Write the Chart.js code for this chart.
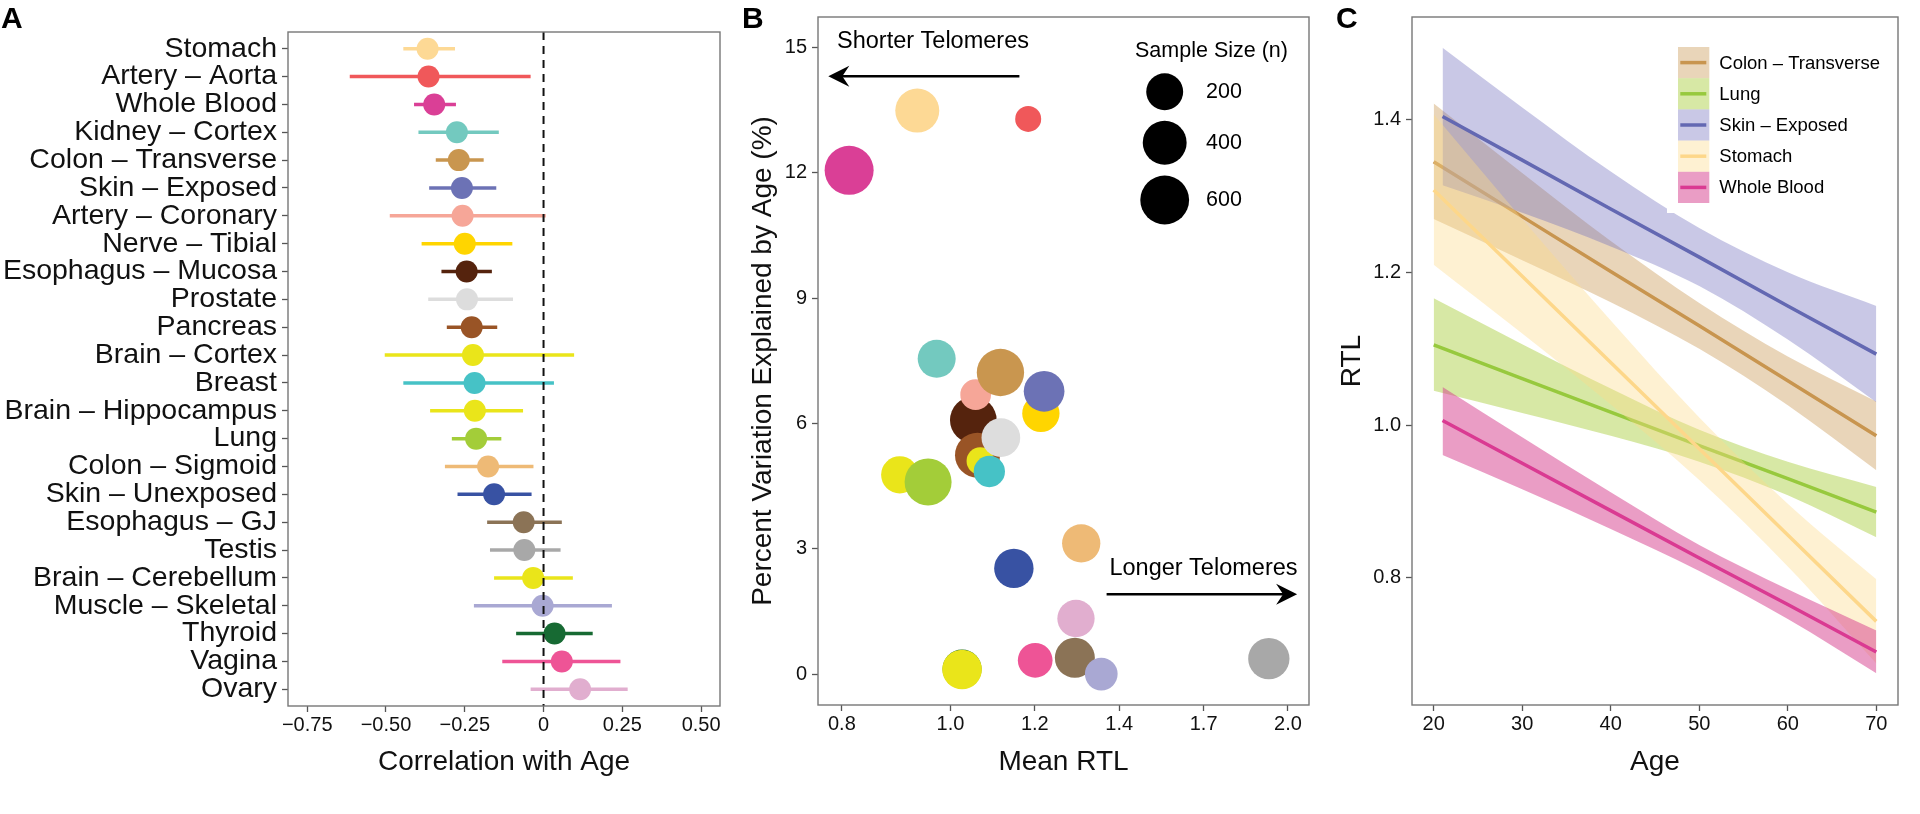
<!DOCTYPE html>
<html>
<head>
<meta charset="utf-8">
<script src="https://cdn.jsdelivr.net/npm/chart.js@4.4.1/dist/chart.umd.min.js"></script>
<style>
  html, body { margin: 0; padding: 0; background: #fff; }
  body { width: 1920px; height: 814px; position: relative; overflow: hidden; }
  .panel { position: absolute; top: 0; }
  .tag { position: absolute; top: 3px; font: bold 30px 'Liberation Sans', Arial, sans-serif; line-height: 30px; color: #000; }
</style>
</head>
<body>
<div class="panel" style="left:0px"><canvas id="chartA" width="740" height="814"></canvas></div>
<div class="panel" style="left:720px"><canvas id="chartB" width="600" height="814"></canvas></div>
<div class="panel" style="left:1320px"><canvas id="chartC" width="600" height="814"></canvas></div>
<div class="tag" style="left:1px">A</div>
<div class="tag" style="left:742px">B</div>
<div class="tag" style="left:1336px">C</div>
<script>
// ---- panel A: correlation with age ----
const tissues = ['Stomach', 'Artery – Aorta', 'Whole Blood', 'Kidney – Cortex', 'Colon – Transverse',
  'Skin – Exposed', 'Artery – Coronary', 'Nerve – Tibial', 'Esophagus – Mucosa', 'Prostate', 'Pancreas',
  'Brain – Cortex', 'Breast', 'Brain – Hippocampus', 'Lung', 'Colon – Sigmoid', 'Skin – Unexposed',
  'Esophagus – GJ', 'Testis', 'Brain – Cerebellum', 'Muscle – Skeletal', 'Thyroid', 'Vagina', 'Ovary'];
const corr = [-0.368, -0.365, -0.347, -0.275, -0.269, -0.259, -0.257, -0.250, -0.244, -0.243, -0.228,
  -0.224, -0.219, -0.218, -0.214, -0.176, -0.157, -0.063, -0.061, -0.033, -0.003, 0.035, 0.058, 0.116];
const corrLow = [-0.445, -0.615, -0.411, -0.397, -0.342, -0.363, -0.488, -0.387, -0.324, -0.366, -0.307,
  -0.504, -0.445, -0.360, -0.291, -0.313, -0.273, -0.179, -0.170, -0.157, -0.221, -0.087, -0.131, -0.041];
const corrHigh = [-0.281, -0.041, -0.278, -0.142, -0.190, -0.150, 0.007, -0.099, -0.164, -0.097, -0.147,
  0.097, 0.033, -0.065, -0.134, -0.032, -0.038, 0.058, 0.054, 0.093, 0.217, 0.156, 0.244, 0.267];
const tissueColors = ['#FDD995', '#F0585A', '#DA3F96', '#73C9BF', '#C9964F', '#6C72B5', '#F6A698',
  '#FFD500', '#55230D', '#DDDDDD', '#995426', '#EAE51A', '#46C2C6', '#EAE51A', '#A3CD39', '#EEBA76',
  '#3852A3', '#8B7356', '#A8A8A8', '#EAE51A', '#A9A8D3', '#176A33', '#EE5496', '#E1AECF'];
const corrTicks = [-0.75, -0.5, -0.25, 0, 0.25, 0.5];
const corrTickLabels = ['−0.75', '−0.50', '−0.25', '0', '0.25', '0.50'];

// ---- panel B: mean RTL vs variation explained (listed in drawing order) ----
const bTissues = ['Whole Blood', 'Stomach', 'Artery – Aorta', 'Kidney – Cortex', 'Esophagus – Mucosa',
  'Artery – Coronary', 'Colon – Transverse', 'Nerve – Tibial', 'Skin – Exposed', 'Pancreas',
  'Brain – Cortex', 'Breast', 'Prostate', 'Brain – Hippocampus', 'Lung', 'Colon – Sigmoid',
  'Skin – Unexposed', 'Ovary', 'Esophagus – GJ', 'Vagina', 'Muscle – Skeletal', 'Testis', 'Thyroid',
  'Brain – Cerebellum'];
const meanRTL = [0.812, 0.934, 1.173, 0.972, 1.048, 1.053, 1.108, 1.204, 1.212, 1.057, 1.063, 1.083,
  1.109, 0.901, 0.955, 1.308, 1.139, 1.294, 1.291, 1.190, 1.363, 1.923, 1.024, 1.024];
const pctVar = [12.06, 13.49, 13.29, 7.55, 6.08, 6.69, 7.22, 6.24, 6.77, 5.24, 5.10, 4.85, 5.66, 4.77,
  4.60, 3.13, 2.53, 1.33, 0.39, 0.33, 0.00, 0.37, 0.12, 0.11];
const sampleSize = [609, 404, 80, 224, 508, 102, 534, 208, 296, 441, 82, 108, 241, 208, 521, 231, 260,
  208, 276, 156, 125, 314, 250, 268];
const rtlTicks = [0.8, 1.0, 1.189, 1.414, 1.682, 2.0];
const rtlTickLabels = ['0.8', '1.0', '1.2', '1.4', '1.7', '2.0'];
const pctTicks = [0, 3, 6, 9, 12, 15];
const sizeKeys = [200, 400, 600];
const noteText = ['Shorter Telomeres', 'Longer Telomeres'];
const noteX = [0.792, 1.386];
const noteY = [14.99, 2.37];
const arrowFromX = [1.152, 1.378];
const arrowToX = [0.778, 2.038];
const arrowY = [14.31, 1.91];

// ---- panel C: RTL vs age fits with confidence bands ----
const ageFrom20 = [20, 30, 40, 50, 60, 70];
const ageFrom21 = [21, 30, 40, 50, 60, 70];
const colonFit = [1.345, 1.273, 1.201, 1.130, 1.058, 0.986];
const colonLow = [1.270, 1.216, 1.161, 1.100, 1.026, 0.941];
const colonHigh = [1.421, 1.330, 1.241, 1.160, 1.090, 1.031];
const lungFit = [1.105, 1.061, 1.017, 0.973, 0.930, 0.886];
const lungLow = [1.045, 1.016, 0.986, 0.952, 0.908, 0.853];
const lungHigh = [1.166, 1.106, 1.048, 0.994, 0.952, 0.919];
const skinFit = [1.404, 1.347, 1.283, 1.220, 1.156, 1.093];
const skinLow = [1.314, 1.278, 1.234, 1.182, 1.112, 1.030];
const skinHigh = [1.494, 1.416, 1.332, 1.258, 1.200, 1.156];
const stomachFit = [1.308, 1.195, 1.082, 0.969, 0.856, 0.743];
const stomachLow = [1.210, 1.120, 1.027, 0.928, 0.815, 0.688];
const stomachHigh = [1.407, 1.270, 1.137, 1.010, 0.897, 0.798];
const bloodFit = [1.006, 0.950, 0.888, 0.826, 0.765, 0.703];
const bloodLow = [0.961, 0.916, 0.864, 0.809, 0.746, 0.675];
const bloodHigh = [1.050, 0.984, 0.912, 0.843, 0.785, 0.731];
const rtlAxisTicks = [0.8, 1.0, 1.2, 1.4];
const ageTicks = [20, 30, 40, 50, 60, 70];

const fitNames = ['Colon – Transverse', 'Lung', 'Skin – Exposed', 'Stomach', 'Whole Blood'];
const fitAges = [ageFrom20, ageFrom20, ageFrom21, ageFrom20, ageFrom21];
const fitMid = [colonFit, lungFit, skinFit, stomachFit, bloodFit];
const fitLow = [colonLow, lungLow, skinLow, stomachLow, bloodLow];
const fitHigh = [colonHigh, lungHigh, skinHigh, stomachHigh, bloodHigh];
const fitLine = ['#C8954F', '#97C93D', '#6368B2', '#FDD78A', '#DA3A92'];
const fitBand = ['rgba(200,149,79,0.4)', 'rgba(160,200,40,0.42)', 'rgba(112,110,190,0.38)',
  'rgba(253,217,138,0.38)', 'rgba(214,60,140,0.5)'];

const FONT = "'Liberation Sans', Arial, Helvetica, sans-serif";
const INK = '#111';
Chart.defaults.font.family = FONT;
Chart.defaults.color = INK;

const framePlugin = {
  id: 'frame',
  afterDraw(chart) {
    const a = chart.chartArea, ctx = chart.ctx;
    ctx.save();
    ctx.strokeStyle = '#777';
    ctx.lineWidth = 1.4;
    ctx.strokeRect(a.left, a.top, a.right - a.left, a.bottom - a.top);
    ctx.restore();
  }
};

function tickGrid() {
  return { drawOnChartArea: false, drawTicks: true, tickLength: 6, tickColor: '#555', tickWidth: 1.3 };
}

function xAxis(type, min, max, ticks, labels, title, height) {
  return {
    type: type, min: min, max: max,
    afterBuildTicks: s => { s.ticks = ticks.map(v => ({ value: v })); },
    afterFit: s => { s.height = height; },
    ticks: { callback: (v, i) => labels[i], color: INK, font: { size: 20 }, padding: 1,
             maxRotation: 0, minRotation: 0, autoSkip: false },
    grid: tickGrid(),
    border: { display: false },
    title: { display: true, text: title, color: INK, font: { size: 28 }, padding: { top: 0, bottom: 35 } }
  };
}

function yAxis(min, max, ticks, labels, title, width, titlePad) {
  return {
    type: 'linear', min: min, max: max,
    afterBuildTicks: s => { s.ticks = ticks.map(v => ({ value: v })); },
    afterFit: s => { s.width = width; },
    ticks: { callback: (v, i) => labels[i], color: INK, font: { size: 20 }, padding: 5, autoSkip: false },
    grid: tickGrid(),
    border: { display: false },
    title: { display: true, text: title, color: INK, font: { size: 28 }, padding: { top: titlePad, bottom: 0 } }
  };
}

const baseOptions = {
  responsive: false,
  animation: false,
  devicePixelRatio: 1,
  events: [],
  plugins: { legend: { display: false }, tooltip: { enabled: false } }
};

// ---------- Chart A ----------
const aDatasets = [
  { data: [{ x: 0, y: -0.6 }, { x: 0, y: 23.6 }], showLine: true, borderColor: '#111',
    borderWidth: 2, borderDash: [8, 6], pointRadius: 0 },
  { data: corr.map((c, i) => ({ x: c, y: i })), pointRadius: 11, borderWidth: 0,
    pointBackgroundColor: tissueColors, pointBorderWidth: 0 }
];
tissues.forEach((t, i) => {
  aDatasets.push({
    data: [{ x: corrLow[i], y: i }, { x: corrHigh[i], y: i }],
    showLine: true, borderColor: tissueColors[i], borderWidth: 3.5, borderCapStyle: 'butt', pointRadius: 0
  });
});

new Chart(document.getElementById('chartA'), {
  type: 'scatter',
  data: { datasets: aDatasets },
  options: Object.assign({}, baseOptions, {
    layout: { autoPadding: false, padding: { left: 0, top: 32, right: 20, bottom: 0 } },
    scales: {
      x: xAxis('linear', -0.811, 0.56, corrTicks, corrTickLabels, 'Correlation with Age', 108),
      y: {
        type: 'linear', reverse: true, min: -0.6, max: 23.6,
        afterBuildTicks: s => { s.ticks = tissues.map((t, i) => ({ value: i })); },
        afterFit: s => { s.width = 288; },
        ticks: { callback: (v, i) => tissues[i], color: INK, font: { size: 28.5 }, padding: 5, autoSkip: false },
        grid: tickGrid(),
        border: { display: false }
      }
    }
  }),
  plugins: [framePlugin]
});

// ---------- Chart B ----------
function sizeToRadius(n) {
  return (26 + Math.sqrt(Math.max(n - 80, 0))) / 2;
}

function drawArrow(ctx, x0, x1, y) {
  const dir = x1 > x0 ? 1 : -1;
  ctx.beginPath();
  ctx.moveTo(x0, y);
  ctx.lineTo(x1 - dir * 12, y);
  ctx.lineWidth = 2.6;
  ctx.strokeStyle = '#000';
  ctx.stroke();
  ctx.beginPath();
  ctx.moveTo(x1, y);
  ctx.lineTo(x1 - dir * 21, y - 10.5);
  ctx.lineTo(x1 - dir * 14, y);
  ctx.lineTo(x1 - dir * 21, y + 10.5);
  ctx.closePath();
  ctx.fillStyle = '#000';
  ctx.fill();
}

const telomereNotes = {
  id: 'telomereNotes',
  afterDatasetsDraw(chart) {
    const ctx = chart.ctx, sx = chart.scales.x, sy = chart.scales.y, a = chart.chartArea;
    ctx.save();
    ctx.font = `23.5px ${FONT}`;
    ctx.fillStyle = '#000';
    ctx.textAlign = 'left';
    ctx.textBaseline = 'alphabetic';
    noteText.forEach((t, i) => {
      ctx.fillText(t, sx.getPixelForValue(noteX[i]), sy.getPixelForValue(noteY[i]));
      drawArrow(ctx, sx.getPixelForValue(arrowFromX[i]), sx.getPixelForValue(arrowToX[i]),
        sy.getPixelForValue(arrowY[i]));
    });
    // sample size key
    ctx.font = `21.5px ${FONT}`;
    ctx.textAlign = 'center';
    ctx.fillText('Sample Size (n)', a.right - 97.5, a.top + 40);
    const keyY = [74.7, 125.7, 183];
    ctx.textAlign = 'left';
    ctx.textBaseline = 'middle';
    sizeKeys.forEach((n, i) => {
      ctx.beginPath();
      ctx.arc(a.right - 144.3, a.top + keyY[i], sizeToRadius(n), 0, Math.PI * 2);
      ctx.fillStyle = '#000';
      ctx.fill();
      ctx.fillText(String(n), a.right - 103, a.top + keyY[i]);
    });
    ctx.restore();
  }
};

new Chart(document.getElementById('chartB'), {
  type: 'bubble',
  data: {
    datasets: [{
      data: bTissues.map((t, i) => ({ x: meanRTL[i], y: pctVar[i], r: sizeToRadius(sampleSize[i]) })),
      backgroundColor: bTissues.map(t => tissueColors[tissues.indexOf(t)]),
      borderWidth: 0
    }]
  },
  options: Object.assign({}, baseOptions, {
    layout: { autoPadding: false, padding: { left: 0, top: 17, right: 11, bottom: 0 } },
    scales: {
      x: xAxis('logarithmic', 0.7617, 2.0884, rtlTicks, rtlTickLabels, 'Mean RTL', 109),
      y: yAxis(-0.74, 15.73, pctTicks, pctTicks.map(String), 'Percent Variation Explained by Age (%)', 98, 26)
    }
  }),
  plugins: [framePlugin, telomereNotes]
});

// ---------- Chart C ----------
const toPoints = (xs, ys) => xs.map((x, i) => ({ x: x, y: ys[i] }));
const cDatasets = [];
// the first dataset is painted last, so the last tissue goes first
for (let k = fitNames.length - 1; k >= 0; k--) {
  cDatasets.push({ data: toPoints(fitAges[k], fitMid[k]), borderColor: fitLine[k], borderWidth: 3.5,
    pointRadius: 0, tension: 0, fill: false });
  cDatasets.push({ data: toPoints(fitAges[k], fitHigh[k]), borderColor: 'rgba(0,0,0,0)', borderWidth: 1,
    pointRadius: 0, cubicInterpolationMode: 'monotone', fill: '+1', backgroundColor: fitBand[k] });
  cDatasets.push({ data: toPoints(fitAges[k], fitLow[k]), borderColor: 'rgba(0,0,0,0)', borderWidth: 1,
    pointRadius: 0, cubicInterpolationMode: 'monotone', fill: false });
}

const fitLegend = {
  id: 'fitLegend',
  afterDatasetsDraw(chart) {
    const ctx = chart.ctx, a = chart.chartArea;
    const x0 = a.left + 266, y0 = a.top + 30, rowH = 31.2, boxW = 31.3;
    ctx.save();
    ctx.fillStyle = '#fff';
    ctx.fillRect(x0 - 11, y0 - 10, 222, rowH * fitNames.length + 20);
    ctx.font = `18.5px ${FONT}`;
    ctx.textAlign = 'left';
    ctx.textBaseline = 'middle';
    fitNames.forEach((name, i) => {
      const top = y0 + i * rowH, mid = top + rowH / 2;
      ctx.fillStyle = fitBand[i];
      ctx.fillRect(x0, top, boxW, rowH);
      ctx.beginPath();
      ctx.moveTo(x0 + 2.3, mid);
      ctx.lineTo(x0 + 28.3, mid);
      ctx.lineWidth = 3.5;
      ctx.strokeStyle = fitLine[i];
      ctx.stroke();
      ctx.fillStyle = '#000';
      ctx.fillText(name, x0 + 41.3, mid + 1);
    });
    ctx.restore();
  }
};

new Chart(document.getElementById('chartC'), {
  type: 'line',
  data: { datasets: cDatasets },
  options: Object.assign({}, baseOptions, {
    layout: { autoPadding: false, padding: { left: 0, top: 17, right: 22, bottom: 0 } },
    plugins: { legend: { display: false }, tooltip: { enabled: false }, filler: { drawTime: 'beforeDatasetDraw' } },
    scales: {
      x: xAxis('linear', 17.55, 72.45, ageTicks, ageTicks.map(String), 'Age', 109),
      y: yAxis(0.6335, 1.5344, rtlAxisTicks, rtlAxisTicks.map(v => v.toFixed(1)), 'RTL', 92, 15.5)
    }
  }),
  plugins: [framePlugin, fitLegend]
});
</script>
</body>
</html>
